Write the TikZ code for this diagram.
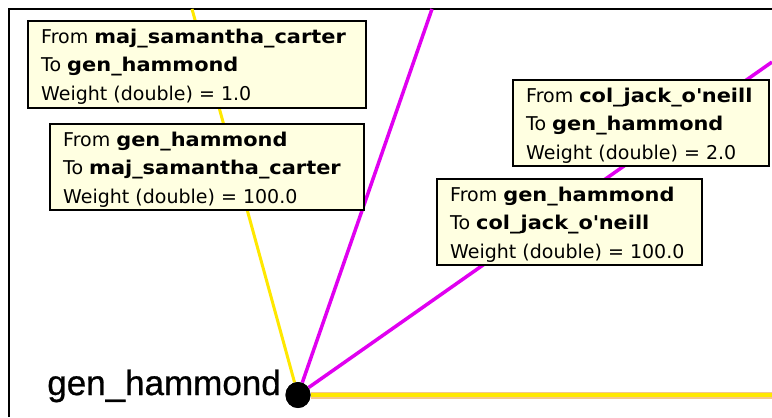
\documentclass[tikz,border=0pt]{standalone}
\usepackage{fontspec}
\setmainfont{Liberation Sans}
\newfontfamily\labfont{Liberation Sans}[FakeBold=0.8]
\newfontfamily\tipfont{DejaVu Sans}[BoldFeatures={FakeStretch=1.1}]
\usetikzlibrary{calc,shapes.geometric}
\definecolor{tipfill}{HTML}{FFFFE1}
\definecolor{magedge}{HTML}{E000F0}
\definecolor{yelcore}{HTML}{FFE800}
\definecolor{yeledge}{HTML}{F6C68C}
\newcommand\mytip[8]{%
  \node[tipbox, minimum width=#4bp, minimum height=#5bp] (#1) at (#2,#3) {};
  \node[tipline] (#1a) at ($(#1.north west)+(14,23)$) {#6};
  \node[tipline] (#1b) at ($(#1.north west)+(14,51.5)$) {#7};
  \node[tipline] (#1c) at ($(#1.north west)+(14,80)$) {#8};
}
\begin{document}
\begin{tikzpicture}[x=1bp,y=-1bp,
  frame/.style={draw=black,line width=2bp},
  magline/.style={draw=magedge,line width=3.5bp},
  yelslant/.style={draw=yelcore,line width=3bp},
  yeloutline/.style={draw=yeledge,line width=7bp},
  yelinner/.style={draw=yelcore,line width=3.5bp},
  tipbox/.style={draw=black,line width=1.5bp,fill=tipfill,anchor=north west,inner sep=0pt},
  tipline/.style={font=\tipfont\fontsize{19bp}{23bp}\selectfont,anchor=base west,inner sep=0pt},
  vertex/.style={ellipse,fill=black,draw=none,minimum width=25bp,minimum height=26bp,inner sep=0pt},
  vlabel/.style={font=\labfont\fontsize{35bp}{40bp}\selectfont,anchor=base east,inner sep=0pt}]
\useasboundingbox (0,0) rectangle (772,417);
\fill[white] (0,0) rectangle (772,417);
\draw[frame] (9,417) -- (9,9) -- (773,9);
\node[vertex] (gh) at (298,395) {};
\coordinate (topa) at (192,9);
\coordinate (topb) at (432,9);
\coordinate (righta) at (772,62);
\coordinate (rightb) at (772,395);
\draw[yelslant] (gh) -- (topa);
\draw[magline] (gh) -- (topb);
\draw[magline] (gh) -- (righta);
\draw[yeloutline] (gh) -- (rightb);
\draw[yelinner] (gh) -- (rightb);
\mytip{tipa}{27}{20}{338}{87}{From \textbf{maj\_samantha\_carter}}{To \textbf{gen\_hammond}}{Weight (double) = 1.0}
\mytip{tipb}{49}{123}{314}{86}{From \textbf{gen\_hammond}}{To \textbf{maj\_samantha\_carter}}{Weight (double) = 100.0}
\mytip{tipc}{512}{79}{256}{86}{From \textbf{col\_jack\_o\textquotesingle neill}}{To \textbf{gen\_hammond}}{Weight (double) = 2.0}
\mytip{tipd}{436}{178}{265}{86}{From \textbf{gen\_hammond}}{To \textbf{col\_jack\_o\textquotesingle neill}}{Weight (double) = 100.0}
\node[vertex] (ghdot) at (gh) {};
\node[vlabel] (ghlabel) at ($(gh.center)+(-17,0)$) {gen\_hammond};
\end{tikzpicture}
\end{document}
